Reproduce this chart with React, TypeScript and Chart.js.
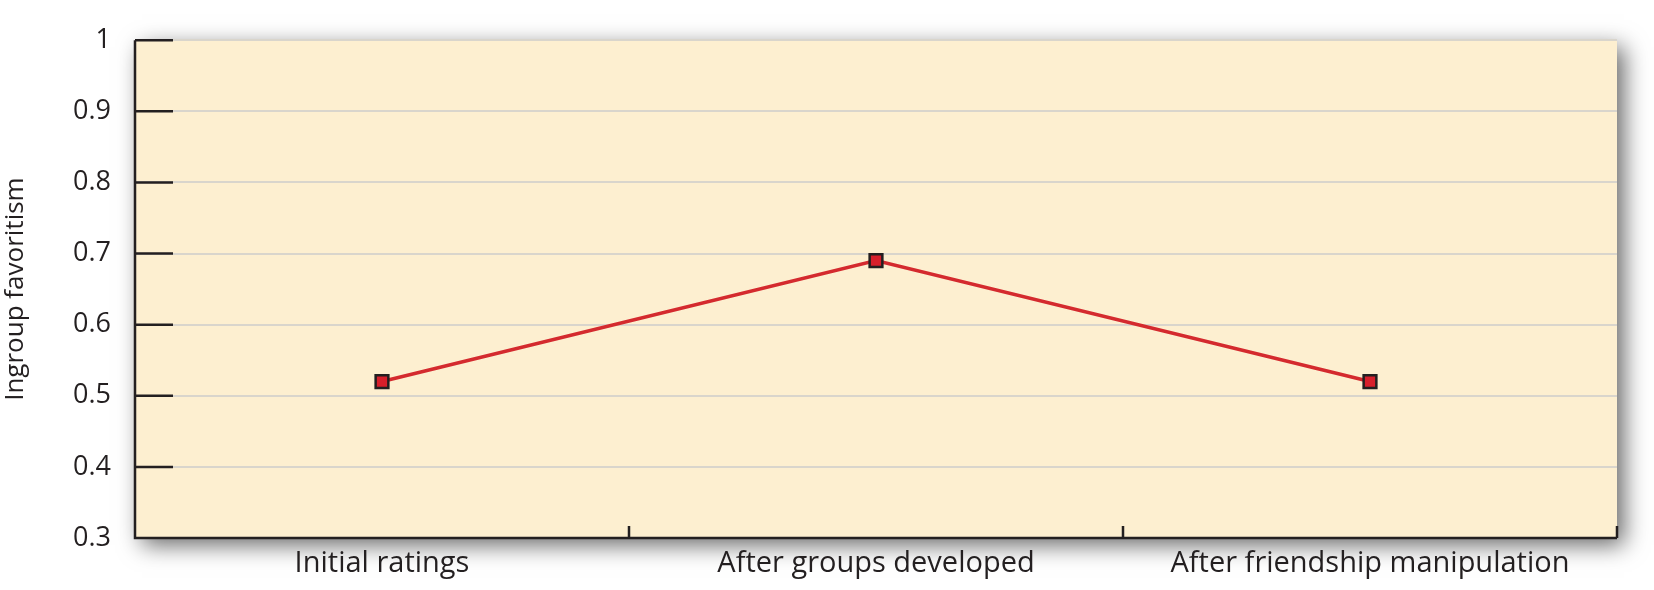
import React, { useEffect, useRef } from "react";
import { Chart, registerables } from "chart.js";

Chart.register(...registerables);

const categories = ["Initial ratings", "After groups developed", "After friendship manipulation"];
const favoritism = [0.52, 0.69, 0.52];
const yMin = 0.3;
const yMax = 1;

const FONT = "'Open Sans', Lato, sans-serif";

const decor = {
  id: "decor",
  beforeDraw(chart: any) {
    const { ctx, chartArea: a } = chart;
    ctx.save();
    ctx.shadowColor = "rgba(0,0,0,0.6)";
    ctx.shadowBlur = 22;
    ctx.shadowOffsetX = 7;
    ctx.shadowOffsetY = 7;
    ctx.fillStyle = "#fdefd0";
    ctx.fillRect(a.left, a.top, a.right - a.left, a.bottom - a.top);
    ctx.restore();
  },
  beforeDatasetsDraw(chart: any) {
    const { ctx, chartArea: a, scales } = chart;
    ctx.save();
    ctx.strokeStyle = "#231f20";
    ctx.lineWidth = 2.5;
    ctx.beginPath();
    // y tick marks inside
    scales.y.ticks.forEach((t: any) => {
      const y = scales.y.getPixelForValue(t.value);
      ctx.moveTo(a.left, y);
      ctx.lineTo(a.left + 38, y);
    });
    // x tick marks at category boundaries
    const n = categories.length;
    const w = (a.right - a.left) / n;
    for (let i = 1; i <= n; i++) {
      const x = a.left + w * i;
      ctx.moveTo(x, a.bottom);
      ctx.lineTo(x, a.bottom - 12);
    }
    ctx.moveTo(a.left, a.top);
    ctx.lineTo(a.left, a.bottom);
    ctx.lineTo(a.right, a.bottom);
    ctx.stroke();
    ctx.restore();
  },
};

export default function App() {
  const ref = useRef<HTMLCanvasElement | null>(null);

  useEffect(() => {
    if (!ref.current) return;
    const chart = new Chart(ref.current, {
      type: "line",
      data: {
        labels: categories,
        datasets: [
          {
            data: favoritism,
            borderColor: "#d42a2e",
            borderWidth: 3.5,
            pointStyle: "rect",
            pointRadius: 9,
            pointBackgroundColor: "#d71f2b",
            pointBorderColor: "#231f20",
            pointBorderWidth: 2.5,
          },
        ],
      },
      options: {
        animation: false,
        responsive: false,
        layout: { padding: { left: 0, top: 38, right: 37, bottom: 0 } },
        plugins: { legend: { display: false }, tooltip: { enabled: false } },
        scales: {
          x: {
            offset: true,
            grid: { display: false, drawTicks: false },
            border: { display: false },
            ticks: { color: "#231f20", font: { family: FONT, size: 29 }, padding: 8 },
            afterFit: (s: any) => {
              s.height = 52;
            },
          },
          y: {
            min: yMin,
            max: yMax,
            grid: { color: "#d9d5cc", lineWidth: 2, drawTicks: false },
            border: { display: false },
            ticks: {
              stepSize: 0.1,
              color: "#231f20",
              font: { family: FONT, size: 27 },
              padding: 24,
              callback: (v: any) => String(Math.round(Number(v) * 10) / 10),
            },
            title: {
              display: true,
              text: "Ingroup favoritism",
              color: "#231f20",
              font: { family: FONT, size: 26 },
              padding: 0,
            },
            afterFit: (s: any) => {
              s.width = 135;
            },
          },
        },
      },
      plugins: [decor],
    });
    return () => chart.destroy();
  }, []);

  return (
    <div style={{ position: "fixed", left: 0, top: 0, width: 1654, height: 590, background: "#fff" }}>
      <canvas ref={ref} width={1654} height={590} />
    </div>
  );
}
